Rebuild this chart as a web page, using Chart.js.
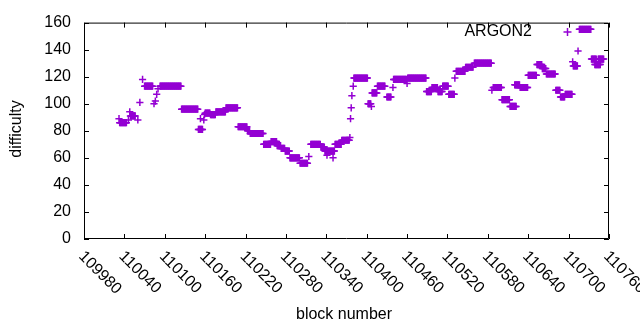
<!DOCTYPE html>
<html>
<head>
<meta charset="utf-8">
<script src="https://cdn.jsdelivr.net/npm/chart.js@4.4.0/dist/chart.umd.min.js"></script>
<style>
  html, body { margin: 0; padding: 0; background: #fff; }
  canvas { display: block; }
</style>
</head>
<body>
<canvas id="grafico" width="640" height="330"></canvas>
<script>
var xTicks = [109980, 110040, 110100, 110160, 110220, 110280, 110340, 110400, 110460, 110520, 110580, 110640, 110700, 110760];
var yTicks = [0, 20, 40, 60, 80, 100, 120, 140, 160];

// runs of blocks with the same difficulty (from block, to block, difficulty)
var runFrom = [110032, 110033, 110046, 110048, 110049, 110060, 110063, 110067, 110070, 110084,
    110086, 110088, 110090, 110093, 110125, 110150, 110153, 110158, 110159, 110160,
    110168, 110176, 110191, 110209, 110223, 110227, 110247, 110258, 110267, 110273,
    110279, 110286, 110301, 110314, 110317, 110332, 110338, 110341, 110350, 110353,
    110363, 110375, 110376, 110377, 110378, 110380, 110381, 110402, 110407, 110408,
    110416, 110430, 110439, 110440, 110460, 110461, 110489, 110497, 110506, 110513,
    110522, 110531, 110533, 110547, 110560, 110586, 110588, 110601, 110613, 110620,
    110628, 110640, 110653, 110661, 110667, 110681, 110688, 110695, 110706, 110707,
    110714, 110716, 110734, 110739, 110744];
var runTo = [110032, 110043, 110046, 110048, 110056, 110060, 110063, 110067, 110082, 110084,
    110086, 110088, 110090, 110124, 110149, 110156, 110153, 110158, 110159, 110167,
    110175, 110190, 110208, 110222, 110226, 110246, 110257, 110266, 110272, 110278,
    110285, 110300, 110312, 110314, 110331, 110337, 110352, 110341, 110350, 110362,
    110374, 110375, 110376, 110377, 110378, 110380, 110401, 110406, 110407, 110415,
    110427, 110436, 110439, 110459, 110460, 110488, 110496, 110505, 110512, 110521,
    110530, 110531, 110546, 110558, 110585, 110586, 110600, 110612, 110622, 110627,
    110639, 110652, 110660, 110666, 110680, 110687, 110694, 110705, 110706, 110713,
    110714, 110733, 110741, 110747, 110752];
var runDifficulty = [89, 86, 88, 94, 91, 88, 101, 118, 113, 100,
    102, 107, 111, 113, 96, 81, 89, 88, 92, 93,
    92, 94, 97, 83, 80, 78, 70, 72, 69, 67,
    65, 60, 56, 61, 70, 68, 65, 62, 60, 70,
    73, 75, 89, 97, 106, 113, 119, 100, 98, 108,
    113, 105, 112, 118, 115, 119, 109, 112, 109, 113,
    107, 119, 124, 127, 130, 110, 112, 103, 98, 114,
    112, 121, 129, 126, 122, 110, 105, 107, 131, 128,
    139, 155, 133, 129, 133];

var color = "#9400d3";
var font = "16px 'Liberation Sans', Arial, sans-serif";

var puntos = [];
for (var i = 0; i < runFrom.length; i++) {
    for (var b = runFrom[i]; b <= runTo[i]; b++) {
        puntos.push({ x: b, y: runDifficulty[i] });
    }
}

// gnuplot style frame, inward ticks, rotated x labels, titles and key
var marco = {
    id: "marco",
    beforeDatasetsDraw: function (chart) {
        var ctx = chart.ctx;
        var a = chart.chartArea;
        var xs = chart.scales.x, ys = chart.scales.y;
        ctx.save();
        ctx.strokeStyle = "#000";
        ctx.lineWidth = 1;
        ctx.beginPath();
        ctx.rect(a.left + 0.5, a.top + 0.5, a.right - a.left - 1, a.bottom - a.top - 1);
        xTicks.forEach(function (t) {
            var px = Math.round(xs.getPixelForValue(t)) + 0.5;
            ctx.moveTo(px, a.bottom);
            ctx.lineTo(px, a.bottom - 5);
            ctx.moveTo(px, a.top);
            ctx.lineTo(px, a.top + 5);
        });
        yTicks.forEach(function (t) {
            var py = Math.round(ys.getPixelForValue(t)) + 0.5;
            ctx.moveTo(a.left, py);
            ctx.lineTo(a.left + 5, py);
            ctx.moveTo(a.right, py);
            ctx.lineTo(a.right - 5, py);
        });
        ctx.stroke();
        ctx.restore();
    },
    afterDraw: function (chart) {
        var ctx = chart.ctx;
        var a = chart.chartArea;
        var xs = chart.scales.x;
        ctx.save();
        ctx.fillStyle = "#000";
        ctx.font = font;

        // x tick labels, rotated 45 degrees clockwise
        ctx.textAlign = "left";
        ctx.textBaseline = "middle";
        xTicks.forEach(function (t) {
            var px = xs.getPixelForValue(t);
            ctx.save();
            ctx.translate(px - 3, a.bottom + 15);
            ctx.rotate(Math.PI / 4);
            ctx.fillText(String(t), 0, 0);
            ctx.restore();
        });

        // axis titles
        ctx.textAlign = "center";
        ctx.fillText("block number", 344, 315);
        ctx.save();
        ctx.translate(17, 129);
        ctx.rotate(-Math.PI / 2);
        ctx.fillText("difficulty", 0, 0);
        ctx.restore();

        // key
        ctx.textAlign = "right";
        ctx.fillText("ARGON2", 532, 32);
        ctx.strokeStyle = color;
        ctx.lineWidth = 1.5;
        ctx.beginPath();
        ctx.moveTo(563.5, 32);
        ctx.lineTo(571.5, 32);
        ctx.moveTo(567.5, 28);
        ctx.lineTo(567.5, 36);
        ctx.stroke();
        ctx.restore();
    }
};

var ctx = document.getElementById("grafico").getContext("2d");
var grafico = new Chart(ctx, {
    type: "scatter",
    data: {
        datasets: [
            {
                label: "ARGON2",
                data: puntos,
                pointStyle: "cross",
                pointRadius: 3.6,
                pointHoverRadius: 3.6,
                borderColor: color,
                backgroundColor: color,
                borderWidth: 1.5,
            },
        ],
    },
    options: {
        responsive: false,
        animation: false,
        layout: { padding: { top: 19, right: 31, left: 0, bottom: 0 } },
        plugins: {
            legend: { display: false },
            tooltip: { enabled: false },
        },
        scales: {
            x: {
                type: "linear",
                min: 109980,
                max: 110760,
                grid: { display: false, drawTicks: false },
                border: { display: false },
                ticks: { display: false },
                afterFit: function (s) { s.height = 91; },
            },
            y: {
                min: 0,
                max: 160,
                grid: { display: false, drawTicks: false },
                border: { display: false },
                ticks: {
                    stepSize: 20,
                    color: "#000",
                    padding: 13,
                    font: { family: "'Liberation Sans', Arial, sans-serif", size: 16 },
                },
                afterFit: function (s) { s.width = 84; },
            },
        },
    },
    plugins: [marco],
});
</script>
</body>
</html>
